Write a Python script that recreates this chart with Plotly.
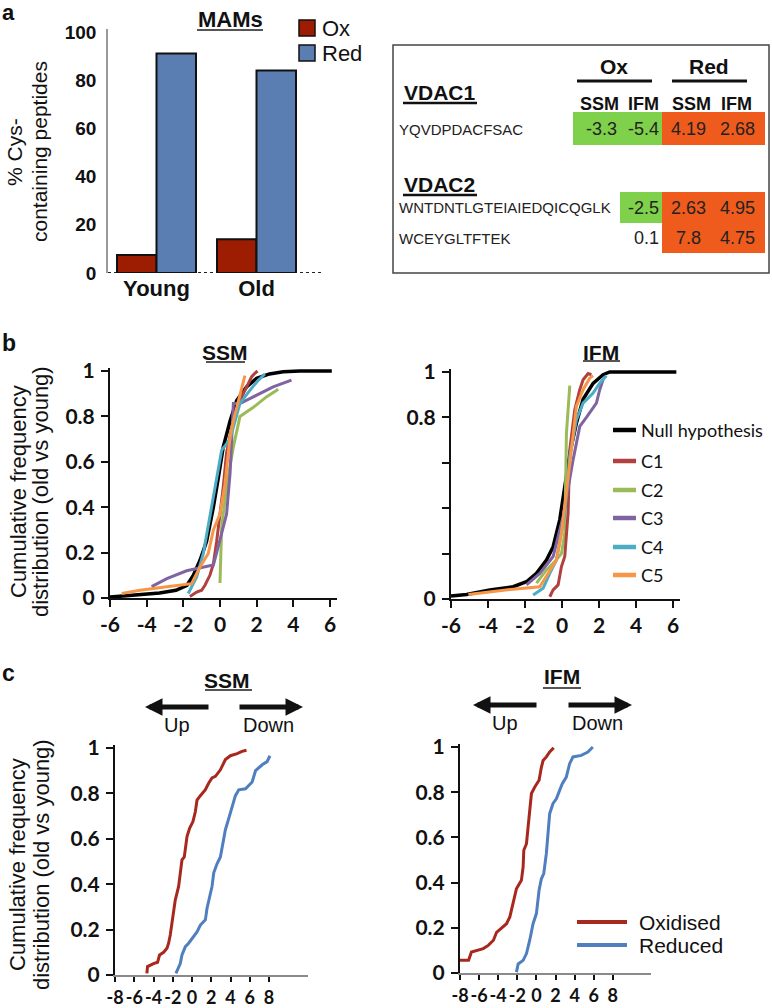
import plotly.graph_objects as go

W, H = 772, 1008
def X(px): return px / W
def Y(py): return 1 - py / H

ARIAL = "Liberation Sans, Arial, sans-serif"
CAL = "Lato, Carlito, Calibri, sans-serif"

# ---------------- Panel a: bar chart ----------------
ages = ["Young", "Old"]
ox_pct = [7.5, 14.0]
red_pct = [91.0, 84.0]
bar_names = ["Ox", "Red"]
bar_colors = ["#9C1D02", "#5B7EB2"]

# ---------------- Panel a: table ----------------
proteins = ["VDAC1", "VDAC2"]
peptides = ["YQVDPDACFSAC", "WNTDNTLGTEIAIEDQICQGLK", "WCEYGLTFTEK"]
ox_ssm = [-3.3, None, None]
ox_ifm = [-5.4, -2.5, 0.1]
red_ssm = [4.19, 2.63, 7.8]
red_ifm = [2.68, 4.95, 4.75]
col_headers = ["SSM", "IFM", "SSM", "IFM"]
group_headers = ["Ox", "Red"]

# ---------------- Panel b: cumulative distributions ----------------
b_names = ["Null hypothesis", "C1", "C2", "C3", "C4", "C5"]
b_colors = ["#000000", "#B0413E", "#9BBB59", "#8064A2", "#4BACC6", "#F79646"]

ssm_null_x = [-6, -4.7, -3.3, -2.4, -1.8, -1.45, -1.09, -0.73, -0.36, -0.09, 0.18, 0.55, 0.91, 1.45, 2.0, 2.7, 3.45, 4.36, 6.1]
ssm_null_y = [0.004, 0.012, 0.022, 0.034, 0.056, 0.1, 0.166, 0.25, 0.4, 0.53, 0.666, 0.78, 0.87, 0.93, 0.968, 0.987, 0.997, 1.0, 1.0]
ssm_c1_x = [-1.64, -1.27, -1.0, -0.82, -0.55, -0.36, -0.18, 0.0, 0.18, 0.36, 0.64, 1.09, 1.45, 1.73, 1.9, 2.05]
ssm_c1_y = [0.007, 0.026, 0.034, 0.056, 0.1, 0.15, 0.25, 0.37, 0.49, 0.64, 0.75, 0.87, 0.93, 0.975, 0.99, 1.0]
ssm_c2_x = [0.0, 0.09, 0.36, 0.73, 1.09, 1.82, 2.55, 3.18]
ssm_c2_y = [0.066, 0.31, 0.49, 0.666, 0.8, 0.84, 0.887, 0.92]
ssm_c3_x = [-3.73, -2.9, -1.82, -0.91, -0.36, -0.18, 0.09, 0.36, 0.55, 0.73, 1.09, 1.82, 2.9, 3.9]
ssm_c3_y = [0.05, 0.085, 0.12, 0.137, 0.145, 0.2, 0.28, 0.37, 0.55, 0.857, 0.857, 0.887, 0.93, 0.96]
ssm_c4_x = [-1.73, -1.27, -0.91, -0.55, -0.18, 0.09, 0.55, 0.73, 1.09, 1.64, 2.1, 2.45]
ssm_c4_y = [0.02, 0.093, 0.196, 0.357, 0.52, 0.65, 0.7, 0.755, 0.857, 0.916, 0.96, 0.987]
ssm_c5_x = [-5.36, -4.36, -2.9, -1.55, -1.09, -0.64, -0.36, 0.0, 0.27, 0.55, 0.73, 1.0, 1.18, 1.36]
ssm_c5_y = [0.02, 0.034, 0.05, 0.063, 0.137, 0.196, 0.3, 0.37, 0.5, 0.71, 0.78, 0.87, 0.93, 0.98]

ifm_null_x = [-6, -5.16, -3.9, -2.64, -1.92, -1.38, -0.84, -0.48, -0.12, 0.15, 0.42, 0.78, 1.14, 1.68, 2.22, 2.58, 6.18]
ifm_null_y = [0.013, 0.02, 0.04, 0.054, 0.076, 0.113, 0.172, 0.23, 0.35, 0.5, 0.64, 0.775, 0.88, 0.95, 0.988, 1.0, 1.0]
ifm_c1_x = [-0.66, -0.48, -0.21, -0.03, 0.15, 0.33, 0.42, 0.69, 0.96, 1.14, 1.41, 1.59]
ifm_c1_y = [0.01, 0.04, 0.062, 0.143, 0.187, 0.378, 0.657, 0.834, 0.922, 0.966, 0.993, 0.988]
ifm_c2_x = [-1.38, -0.84, -0.48, -0.03, 0.15, 0.24, 0.42]
ifm_c2_y = [0.07, 0.128, 0.157, 0.2, 0.29, 0.73, 0.94]
ifm_c3_x = [-1.92, -1.2, -0.48, 0.06, 0.6, 0.96, 1.32, 1.86, 2.04, 2.22]
ifm_c3_y = [0.062, 0.113, 0.187, 0.363, 0.613, 0.76, 0.8, 0.863, 0.922, 0.966]
ifm_c4_x = [-1.56, -1.02, -0.66, -0.3, 0.15, 0.42, 0.78, 1.14, 1.68, 2.04, 2.4]
ifm_c4_y = [0.018, 0.047, 0.113, 0.172, 0.378, 0.628, 0.79, 0.863, 0.907, 0.951, 0.984]
ifm_c5_x = [-5.06, -3.9, -2.64, -1.2, -0.84, -0.3, -0.03, 0.24, 0.51, 0.78, 1.14, 1.5, 1.68]
ifm_c5_y = [0.02, 0.032, 0.043, 0.054, 0.1, 0.172, 0.29, 0.466, 0.657, 0.849, 0.922, 0.973, 0.984]

# ---------------- Panel c ----------------
c_names = ["Oxidised", "Reduced"]
c_colors = ["#A8281E", "#4F7FBF"]
c_ssm_ox_x = [-4.69, -4.62, -4.0, -3.58, -3.37, -2.95, -2.6, -2.43, -2.26, -2.08, -1.91, -1.74, -1.39, -1.22, -1.04, -0.8, -0.69, -0.52, -0.24, 0.1, 0.35, 0.52, 0.87, 1.39, 1.74, 2.08, 2.43, 2.95, 3.47, 3.99, 4.69, 5.2, 5.66]
c_ssm_ox_y = [0.007, 0.037, 0.05, 0.056, 0.088, 0.1, 0.118, 0.14, 0.176, 0.228, 0.28, 0.33, 0.39, 0.45, 0.507, 0.52, 0.566, 0.61, 0.647, 0.676, 0.72, 0.77, 0.79, 0.816, 0.846, 0.868, 0.875, 0.904, 0.949, 0.966, 0.975, 0.985, 0.99]
c_ssm_red_x = [-1.67, -1.5, -1.22, -1.04, -0.69, -0.35, 0.0, 0.52, 0.87, 1.39, 1.56, 1.8, 2.08, 2.26, 2.6, 2.95, 3.23, 3.47, 3.82, 4.17, 4.51, 4.86, 5.56, 6.25, 6.6, 7.29, 7.8, 8.1]
c_ssm_red_y = [0.007, 0.022, 0.05, 0.088, 0.125, 0.14, 0.16, 0.19, 0.22, 0.243, 0.294, 0.345, 0.39, 0.45, 0.49, 0.52, 0.58, 0.64, 0.69, 0.74, 0.79, 0.816, 0.82, 0.85, 0.9, 0.926, 0.94, 0.966]
c_ifm_ox_x = [-8.0, -7.1, -6.8, -6.1, -5.57, -5.04, -4.5, -4.17, -3.65, -3.13, -2.78, -2.43, -2.09, -1.57, -1.39, -1.32, -1.04, -0.87, -0.7, -0.52, -0.17, 0.28, 0.52, 0.7, 1.04, 1.39, 1.81]
c_ifm_ox_y = [0.056, 0.056, 0.093, 0.1, 0.108, 0.122, 0.145, 0.18, 0.2, 0.218, 0.248, 0.307, 0.373, 0.41, 0.47, 0.543, 0.572, 0.646, 0.72, 0.794, 0.823, 0.853, 0.91, 0.94, 0.956, 0.978, 0.997]
c_ifm_red_x = [-2.09, -1.91, -1.39, -1.04, -0.7, -0.35, 0.0, 0.28, 0.52, 0.77, 1.04, 1.22, 1.39, 1.74, 2.09, 2.43, 2.71, 3.13, 3.48, 3.83, 4.7, 5.39, 5.91]
c_ifm_red_y = [0.004, 0.04, 0.056, 0.086, 0.145, 0.218, 0.263, 0.366, 0.417, 0.44, 0.528, 0.617, 0.705, 0.75, 0.771, 0.808, 0.838, 0.867, 0.926, 0.956, 0.963, 0.978, 1.0]

b_ticks = [0, 0.2, 0.4, 0.6, 0.8, 1]
b_ssm_ticktext = ["0", "0.2", "0.4", "0.6", "0.8", "1"]
b_ifm_ticktext = ["0", "", "", "", "0.8", "1"]
b_xticks = [-6, -4, -2, 0, 2, 4, 6]
c_xticks = [-8, -6, -4, -2, 0, 2, 4, 6, 8]

fig = go.Figure()

# bars
for name, vals, col in zip(bar_names, [ox_pct, red_pct], bar_colors):
    fig.add_trace(go.Bar(x=ages, y=vals, name=name, marker=dict(color=col, line=dict(color="#111", width=2)),
                         xaxis="x", yaxis="y", showlegend=False))

# b curves
ssm_sets = [(ssm_null_x, ssm_null_y), (ssm_c1_x, ssm_c1_y), (ssm_c2_x, ssm_c2_y),
            (ssm_c3_x, ssm_c3_y), (ssm_c4_x, ssm_c4_y), (ssm_c5_x, ssm_c5_y)]
ifm_sets = [(ifm_null_x, ifm_null_y), (ifm_c1_x, ifm_c1_y), (ifm_c2_x, ifm_c2_y),
            (ifm_c3_x, ifm_c3_y), (ifm_c4_x, ifm_c4_y), (ifm_c5_x, ifm_c5_y)]
order = [0, 2, 1, 3, 4, 5]
for i in order:
    w = 3.5 if i == 0 else 3
    fig.add_trace(go.Scatter(x=ssm_sets[i][0], y=ssm_sets[i][1], mode="lines", name=b_names[i],
                             line=dict(color=b_colors[i], width=w), xaxis="x2", yaxis="y2", showlegend=False))
    fig.add_trace(go.Scatter(x=ifm_sets[i][0], y=ifm_sets[i][1], mode="lines", name=b_names[i],
                             line=dict(color=b_colors[i], width=w), xaxis="x3", yaxis="y3", showlegend=False))

# c curves
for (xs, ys), nm, col in zip([(c_ssm_ox_x, c_ssm_ox_y), (c_ssm_red_x, c_ssm_red_y)], c_names, c_colors):
    fig.add_trace(go.Scatter(x=xs, y=ys, mode="lines", name=nm, line=dict(color=col, width=3),
                             xaxis="x4", yaxis="y4", showlegend=False))
for (xs, ys), nm, col in zip([(c_ifm_ox_x, c_ifm_ox_y), (c_ifm_red_x, c_ifm_red_y)], c_names, c_colors):
    fig.add_trace(go.Scatter(x=xs, y=ys, mode="lines", name=nm, line=dict(color=col, width=3),
                             xaxis="x5", yaxis="y5", showlegend=False))

tickfont_b = dict(family=CAL, size=21, color="#111", weight="bold")

def hyph(v):
    return f"{v:g}".replace("\u2212", "-")

def cum_x(dom, rng, ticks, anchor, linecolor="#111", size=21, ticklen=7):
    return dict(domain=dom, range=rng, tickvals=ticks, ticktext=[hyph(t) for t in ticks], tickangle=0,
                ticks="outside", ticklen=ticklen, tickwidth=2, automargin=False,
                tickcolor="#111", showline=True, linecolor=linecolor, linewidth=2, showgrid=False,
                zeroline=False, tickfont=dict(tickfont_b, size=size), anchor=anchor, fixedrange=True)

def cum_y(dom, ticktext, anchor):
    return dict(domain=dom, range=[0, 1.015], tickvals=b_ticks, ticktext=ticktext, ticks="outside",
                ticklen=7, tickwidth=2, tickcolor="#111", showline=True, linecolor="#111", linewidth=2,
                showgrid=False, zeroline=False, tickfont=tickfont_b, anchor=anchor, ticklabelstandoff=2,
                automargin=False, fixedrange=True)

layout = dict(
    width=W, height=H, margin=dict(l=0, r=0, t=0, b=0, autoexpand=False),
    paper_bgcolor="white", plot_bgcolor="white", showlegend=False,
    barmode="group", bargap=0.21, bargroupgap=0,
    xaxis=dict(domain=[X(108), X(323)], range=[-0.485, 1.665], showline=False, ticks="", showgrid=False,
               zeroline=False, tickfont=dict(family=ARIAL, size=22, color="#111", weight="bold"),
               anchor="y", fixedrange=True, automargin=False),
    yaxis=dict(domain=[Y(273), Y(29)], range=[0, 101.2], tickvals=[0, 20, 40, 60, 80, 100], showline=True,
               linecolor="#9a9a9a", linewidth=1.5, ticks="", showgrid=False, zeroline=False,
               tickfont=dict(family=ARIAL, size=19, color="#111", weight="bold"), anchor="x",
               ticklabelstandoff=6, fixedrange=True, automargin=False),
    xaxis2=cum_x([X(110), X(337.3)], [-6, 6.4], b_xticks, "y2"),
    yaxis2=cum_y([Y(598), Y(367.6)], b_ssm_ticktext, "x2"),
    xaxis3=cum_x([X(451), X(680.4)], [-6, 6.4], b_xticks, "y3"),
    yaxis3=cum_y([Y(599), Y(368.6)], b_ifm_ticktext, "x3"),
    xaxis4=cum_x([X(115), X(307.5)], [-8, 12], c_xticks, "y4", linecolor="#8a8a8a", size=18, ticklen=5),
    yaxis4=cum_y([Y(975), Y(744.6)], b_ssm_ticktext, "x4"),
    xaxis5=cum_x([X(460), X(651)], [-8, 12], c_xticks, "y5", linecolor="#8a8a8a", size=18, ticklen=5),
    yaxis5=cum_y([Y(973), Y(743.6)], b_ssm_ticktext, "x5"),
)
fig.update_layout(**layout)

ann = []
shapes = []

def text(x, y, s, size, family=ARIAL, bold=False, xanchor="center", yanchor="middle", angle=0, color="#111"):
    ann.append(dict(x=X(x), y=Y(y), xref="paper", yref="paper", text=s, showarrow=False,
                    xanchor=xanchor, yanchor=yanchor, textangle=angle, borderpad=0,
                    font=dict(family=family, size=size, color=color, weight="bold" if bold else "normal")))

def hline(x0, x1, y, w=2, color="#222"):
    shapes.append(dict(type="line", xref="paper", yref="paper", x0=X(x0), x1=X(x1), y0=Y(y), y1=Y(y),
                       line=dict(color=color, width=w)))

# dotted baseline of bar chart
shapes.append(dict(type="line", xref="x domain", yref="y", x0=0, x1=1, y0=0, y1=0, layer="below",
                   line=dict(color="#222", width=2, dash="dot")))

# panel letters
text(1, 13, "a", 22, bold=True, xanchor="left")
text(1, 343, "b", 23, bold=True, xanchor="left")
text(1, 673, "c", 23, bold=True, xanchor="left")

# panel a titles / legend
text(230, 19, "MAMs", 22, bold=True)
hline(197, 263, 30, w=2, color="#555")
text(14, 152, "% Cys-", 21, angle=-90)
text(39, 152, "containing peptides", 21, angle=-90)
leg_y = [28, 53]
for nm, col, yy in zip(bar_names, bar_colors, leg_y):
    shapes.append(dict(type="rect", xref="paper", yref="paper", x0=X(299), x1=X(315), y0=Y(yy - 8), y1=Y(yy + 8),
                       fillcolor=col, line=dict(color="#111", width=1.5)))
    text(321, yy, nm, 22, xanchor="left")

# table box
shapes.append(dict(type="rect", xref="paper", yref="paper", x0=X(393), x1=X(769), y0=Y(45), y1=Y(273),
                   line=dict(color="#444", width=1.5)))
text(614, 67, group_headers[0], 21, bold=True)
hline(577, 652, 81, w=3, color="#111")
text(709, 67, group_headers[1], 21, bold=True)
hline(672, 747, 81, w=3, color="#111")
col_cx = [599, 643, 691, 736]
for cx, h in zip(col_cx, col_headers):
    text(cx, 104, h, 18, bold=True)
prot_y = [92, 184]
for py_, p in zip(prot_y, proteins):
    text(403, py_, p, 21, bold=True, xanchor="left")
hline(403, 477, 103, w=2.5, color="#111")
hline(403, 477, 195, w=2.5, color="#111")

row_y = [129, 208, 238]
row_top = [112, 192, 223]
row_bot = [145, 223, 253]
col_edges = [(573, 620), (620, 662), (662, 713), (713, 765)]
GREEN, ORANGE = "#7FD14B", "#EE5B1C"
for r, pep in enumerate(peptides):
    text(398, row_y[r], pep, 15, xanchor="left", color="#222")
    vals = [ox_ssm[r], ox_ifm[r], red_ssm[r], red_ifm[r]]
    for c, v in enumerate(vals):
        if v is None:
            continue
        if c < 2 and v < 0:
            fill = GREEN
        elif c >= 2:
            fill = ORANGE
        else:
            fill = None
        x0, x1 = col_edges[c]
        if fill:
            shapes.append(dict(type="rect", xref="paper", yref="paper", x0=X(x0), x1=X(x1),
                               y0=Y(row_bot[r]), y1=Y(row_top[r]), fillcolor=fill, line=dict(width=0),
                               layer="below"))
        s = f"{v:g}"
        if c < 2:
            text(x1 - 2, row_y[r], s, 18, xanchor="right", color="#222")
        else:
            text([688, 737][c - 2], row_y[r], s, 18, color="#222")

# panel b titles
text(225, 352, "SSM", 21, bold=True)
hline(206, 245, 362, w=2, color="#555")
text(601, 352, "IFM", 21, bold=True)
hline(583, 620, 361, w=2, color="#555")
for xx, s in [(18, "Cumulative frequency"), (40, "distribution (old vs young)")]:
    text(xx, 492, s, 22, angle=-90)
b_leg_y = [430, 461, 490, 518, 547, 575]
for nm, col, yy in zip(b_names, b_colors, b_leg_y):
    hline(613, 636, yy, w=4.5, color=col)
    text(640, yy, nm, 18, family=CAL, xanchor="left")

# panel c titles and arrows
text(227, 680, "SSM", 21, bold=True)
hline(205, 252, 690, w=2, color="#555")
text(562, 676, "IFM", 21, bold=True)
hline(543, 581, 688, w=2, color="#555")
for xx, s in [(17, "Cumulative frequency"), (41, "distribution (old vs young)")]:
    text(xx, 865, s, 22, angle=-90)

def arrow(head_x, tail_x, y):
    ann.append(dict(x=X(head_x), y=Y(y), xref="paper", yref="paper", ax=tail_x - head_x, ay=0,
                    axref="pixel", ayref="pixel", text="", showarrow=True, arrowhead=2, arrowsize=0.7,
                    arrowwidth=5, arrowcolor="#111"))

arrow(145, 210, 707)
arrow(303, 238, 707)
text(177, 725, "Up", 20)
text(268, 725, "Down", 20)
arrow(473, 538, 705)
arrow(632, 567, 705)
text(505, 723, "Up", 20)
text(597, 723, "Down", 20)

c_leg_y = [922, 945]
for nm, col, yy in zip(c_names, c_colors, c_leg_y):
    hline(577, 627, yy, w=4, color=col)
    text(638, yy, nm, 21, xanchor="left")

fig.update_layout(annotations=ann, shapes=shapes)
fig.write_html("out.html", config={"displayModeBar": False},
               post_script="document.body.style.margin='0';document.body.style.padding='0';"
                           "document.documentElement.style.overflow='hidden';")
